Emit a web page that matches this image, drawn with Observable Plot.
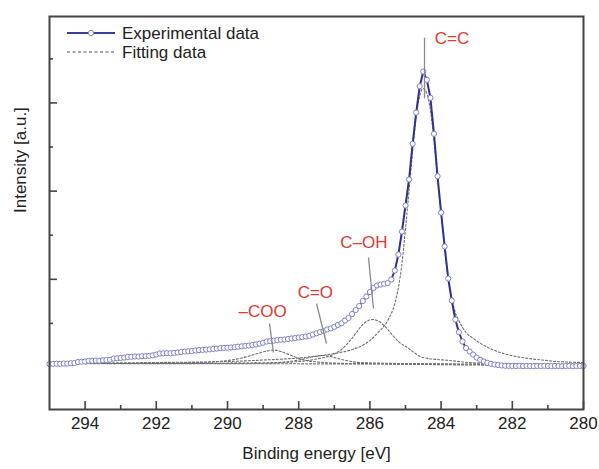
<!DOCTYPE html>
<html><head><meta charset="utf-8">
<script src="https://cdn.jsdelivr.net/npm/d3@7"></script>
<script src="https://cdn.jsdelivr.net/npm/@observablehq/plot@0.6"></script>
<style>
body{margin:0;background:#fff;}
#wrap{position:relative;width:599px;height:469px;font-family:"Liberation Sans",Arial,sans-serif;}
#legend{position:absolute;left:60px;top:20px;}
</style></head><body>
<div id="wrap">
<svg id="legend" width="220" height="45" font-family="Liberation Sans, Arial, sans-serif" font-size="17" fill="#222">
<line x1="7" y1="13" x2="55" y2="13" stroke="#3a3e9c" stroke-width="2"/>
<circle cx="31" cy="13" r="2.6" fill="white" stroke="#7e82c8" stroke-width="1"/>
<text x="62" y="19">Experimental data</text>
<line x1="7" y1="32" x2="55" y2="32" stroke="#555" stroke-width="1.2" stroke-dasharray="3,2.5"/>
<text x="62" y="38">Fitting data</text>
</svg>
</div>
<script>
// Binding energy grid (eV)
const energy = [
295.0,294.9,294.8,294.7,294.6,294.5,294.4,294.3,294.2,294.1,
294.0,293.9,293.8,293.7,293.6,293.5,293.4,293.3,293.2,293.1,
293.0,292.9,292.8,292.7,292.6,292.5,292.4,292.3,292.2,292.1,
292.0,291.9,291.8,291.7,291.6,291.5,291.4,291.3,291.2,291.1,
291.0,290.9,290.8,290.7,290.6,290.5,290.4,290.3,290.2,290.1,
290.0,289.9,289.8,289.7,289.6,289.5,289.4,289.3,289.2,289.1,
289.0,288.9,288.8,288.7,288.6,288.5,288.4,288.3,288.2,288.1,
288.0,287.9,287.8,287.7,287.6,287.5,287.4,287.3,287.2,287.1,
287.0,286.9,286.8,286.7,286.6,286.5,286.4,286.3,286.2,286.1,
286.0,285.9,285.8,285.7,285.6,285.5,285.4,285.3,285.2,285.1,
285.0,284.9,284.8,284.7,284.6,284.5,284.4,284.3,284.2,284.1,
284.0,283.9,283.8,283.7,283.6,283.5,283.4,283.3,283.2,283.1,
283.0,282.9,282.8,282.7,282.6,282.5,282.4,282.3,282.2,282.1,
282.0,281.9,281.8,281.7,281.6,281.5,281.4,281.3,281.2,281.1,
281.0,280.9,280.8,280.7,280.6,280.5,280.4,280.3,280.2,280.1,
280.0];
// Experimental intensity (a.u.)
const experimental = [
0.040,0.042,0.043,0.042,0.045,0.044,0.048,0.051,0.062,0.066,
0.068,0.076,0.077,0.079,0.078,0.082,0.084,0.088,0.102,0.104,
0.108,0.113,0.120,0.122,0.125,0.124,0.128,0.129,0.132,0.138,
0.147,0.159,0.161,0.163,0.162,0.166,0.170,0.176,0.181,0.184,
0.186,0.193,0.198,0.200,0.203,0.206,0.211,0.215,0.220,0.222,
0.224,0.227,0.231,0.236,0.240,0.246,0.249,0.255,0.261,0.270,
0.281,0.295,0.299,0.304,0.311,0.315,0.317,0.323,0.329,0.334,
0.340,0.345,0.351,0.359,0.374,0.388,0.402,0.414,0.431,0.444,
0.461,0.482,0.501,0.533,0.561,0.607,0.652,0.697,0.754,0.805,
0.856,0.901,0.930,0.941,0.950,0.958,0.998,1.100,1.281,1.542,
1.837,2.132,2.536,2.891,3.189,3.356,3.262,3.058,2.650,2.169,
1.757,1.372,1.009,0.760,0.544,0.400,0.295,0.221,0.181,0.147,
0.113,0.087,0.068,0.053,0.042,0.034,0.028,0.023,0.020,0.019,
0.018,0.017,0.019,0.016,0.018,0.017,0.015,0.018,0.017,0.019,
0.017,0.016,0.018,0.017,0.015,0.017,0.018,0.016,0.017,0.018,
0.017];

// Fitting components (read at sample energies)
const ccE = [280.0,280.74,281.21,281.68,282.14,282.61,283.08,283.3,283.46,283.6,283.8,284.0,284.1,284.2,284.3,284.4,284.5,284.6,284.7,284.8,284.9,285.0,285.1,285.2,285.3,285.5,285.8,286.0,286.5,287.0,288.0,289.0,290.0,292.0,295.0];
const ccV = [0.057,0.068,0.087,0.110,0.147,0.212,0.325,0.397,0.499,0.624,1.009,1.746,2.143,2.574,2.914,3.107,3.163,3.084,2.834,2.460,2.007,1.576,1.179,0.907,0.726,0.533,0.385,0.306,0.204,0.159,0.108,0.085,0.068,0.057,0.045];
const cohE = [280.0,283.0,283.74,284.5,284.95,285.2,285.4,285.6,285.8,285.9,286.0,286.2,286.4,286.6,286.8,287.0,287.5,288.0,289.0,291.0,295.0];
const cohV = [0.034,0.051,0.079,0.113,0.227,0.295,0.385,0.476,0.533,0.544,0.539,0.488,0.385,0.283,0.204,0.153,0.096,0.068,0.051,0.045,0.045];
const coE = [280.0,285.0,286.3,286.6,286.9,287.1,287.3,287.5,287.7,288.0,288.4,289.0,295.0];
const coV = [0.034,0.045,0.057,0.074,0.102,0.125,0.136,0.130,0.113,0.085,0.062,0.051,0.045];
const cooE = [280.0,286.5,287.6,287.9,288.2,288.5,288.7,288.9,289.2,289.6,290.0,290.5,291.5,295.0];
const cooV = [0.034,0.045,0.068,0.091,0.136,0.181,0.198,0.187,0.153,0.108,0.079,0.062,0.051,0.045];
const bgE = [280.0,283.0,286.0,295.0];
const bgV = [0.023,0.028,0.040,0.045];

// Annotations
const labelNames = ["C=C","C\u2013OH","C=O","\u2013COO"];
const labelX = [284.18,286.83,288.03,289.69];
const labelY = [3.734,1.417,0.850,0.635];
const leadX1 = [284.466,286.04,287.50,288.82];
const leadY1 = [3.741,1.247,0.726,0.499];
const leadX2 = [284.466,285.90,287.22,288.71];
const leadY2 = [3.050,0.669,0.272,0.170];

// Axis ticks
const xMajor = [294,292,290,288,286,284,282,280];
const xMinor = [293,291,289,287,285,283,281];
const yMajor = [1,2,3];
const yMinor = [0.5,1.5,2.5,3.5];

const expRows = energy.map((e,i)=>({e, v: experimental[i]}));
const comps = [[ccE,ccV],[cohE,cohV],[coE,coV],[cooE,cooV],[bgE,bgV]]
  .map(([E,V])=>E.map((e,i)=>({e, v:V[i]})));
const labels = labelNames.map((n,i)=>({n, tx:labelX[i], ty:labelY[i], x1:leadX1[i], y1:leadY1[i], x2:leadX2[i], y2:leadY2[i]}));

const W = 599, H = 469, ML = 49, MR = 16, MT = 16, MB = 60;
const FW = W-ML-MR, FH = H-MT-MB;
const font = "Liberation Sans, Arial, sans-serif";

const chart = Plot.plot({
  width: W, height: H,
  marginLeft: ML, marginRight: MR, marginTop: MT, marginBottom: MB,
  x: {domain: [295, 280]},
  y: {domain: [-0.476, 3.98], axis: null},
  style: {fontFamily: font, fontSize: "17px", color: "#222", background: "white", overflow: "visible"},
  marks: [
    ...comps.map(rows => Plot.line(rows, {x:"e", y:"v", stroke:"#6f6f6f", strokeWidth:1.1, strokeDasharray:"2,2", curve:"monotone-x"})),
    Plot.line(expRows, {x:"e", y:"v", stroke:"#2e3192", strokeWidth:2}),
    Plot.dot(expRows, {x:"e", y:"v", r:2.6, stroke:"#7e82c8", fill:"white", strokeWidth:1}),
    Plot.link(labels, {x1:"x1", y1:"y1", x2:"x2", y2:"y2", stroke:"#8a8a8a", strokeWidth:1.3}),
    Plot.text(labels, {x:"tx", y:"ty", text:"n", fill:"#e0392f", textAnchor:"start", fontSize:17}),
    Plot.tickX(xMajor, {x: d=>d, stroke:"#444", strokeWidth:1.6, insetTop: FH-8}),
    Plot.tickX(xMinor, {x: d=>d, stroke:"#444", strokeWidth:1.6, insetTop: FH-4}),
    Plot.tickY(yMajor, {y: d=>d, stroke:"#444", strokeWidth:1.6, insetRight: FW-8}),
    Plot.tickY(yMinor, {y: d=>d, stroke:"#444", strokeWidth:1.6, insetRight: FW-4}),
    Plot.axisX({ticks: xMajor, tickSize: 0, tickPadding: 7, label: null, fontSize: 17, tickFormat: d=>String(d)}),
    Plot.text(["Binding energy [eV]"], {frameAnchor:"bottom", dy: 49, fontSize:17, fill:"#222"}),
    Plot.text(["Intensity [a.u.]"], {frameAnchor:"left", dx:-29, rotate:-90, fontSize:17, fill:"#222"}),
    Plot.frame({stroke:"#444", strokeWidth:2})
  ]
});
document.getElementById("wrap").prepend(chart);
</script>
</body></html>
